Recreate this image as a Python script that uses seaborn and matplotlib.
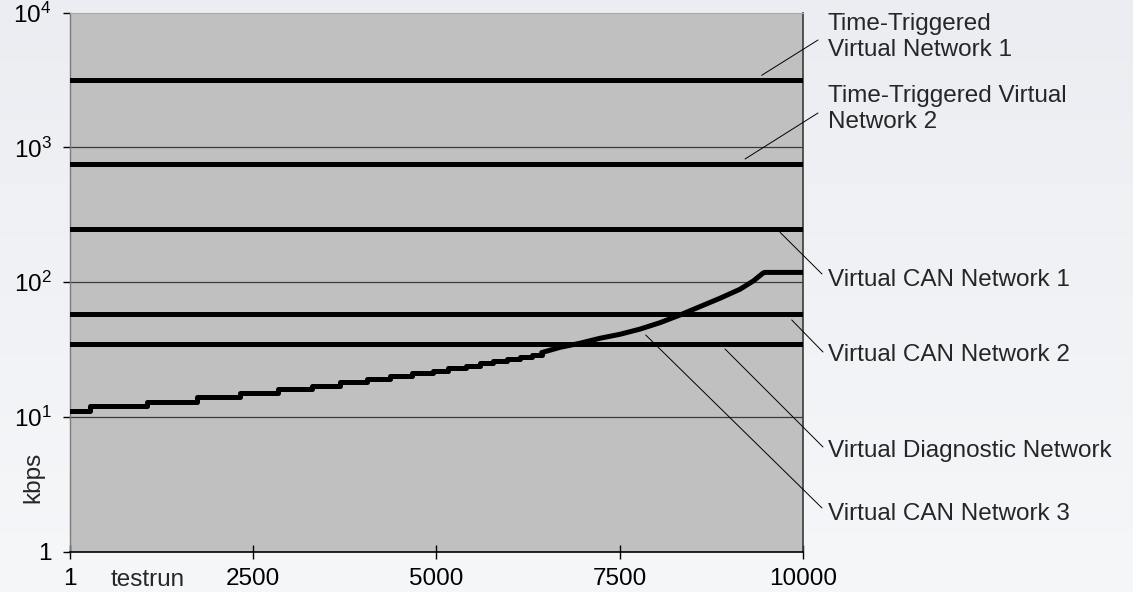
import numpy as np
import pandas as pd
import matplotlib
matplotlib.use("Agg")
import matplotlib.pyplot as plt
import seaborn as sns
from matplotlib.colors import LinearSegmentedColormap

# ---------------- data ----------------
network_names = ["Time-Triggered\nVirtual Network 1",
                 "Time-Triggered Virtual\nNetwork 2",
                 "Virtual CAN Network 1",
                 "Virtual CAN Network 2",
                 "Virtual Diagnostic Network"]
network_kbps = [3150, 755, 247, 58, 35]
testrun_range = [1, 10000]

curve_name = "Virtual CAN Network 3"
step_testrun = [1, 277, 1050, 1731, 2322, 2840, 3299, 3685, 4049, 4366, 4662,
                4948, 5157, 5402, 5592, 5774, 5957, 6138, 6298, 6434]
step_kbps = [11, 12, 13, 14, 15, 16, 17, 18, 19, 20, 21,
             22, 23, 24, 25, 26, 27, 28, 29, 30]
curve_testrun = [6434, 6683, 6956, 7228, 7501, 7774, 8047, 8319, 8592, 8865,
                 9137, 9319, 9455, 9478, 10000]
curve_kbps = [30, 32.8, 35.2, 38.3, 41, 44.8, 50, 57, 65.8, 75.9,
              88.5, 102, 117, 118, 118]

x_ticks = [1, 2500, 5000, 7500, 10000]
x_ticklabels = ["1", "2500", "5000", "7500", "10000"]
y_ticks = [1, 10, 100, 1000, 10000]
y_ticklabels = ["1", r"$\mathregular{10^1}$", r"$\mathregular{10^2}$",
                r"$\mathregular{10^3}$", r"$\mathregular{10^4}$"]
x_label = "testrun"
y_label = "kbps"

# label layout (leader start in data units, leader end / text in figure pixels from top)
label_texts = network_names + [curve_name]
leader_x = [9433, 9206, 9683, 9842, 8933, 7852]
leader_y = [3420, 819, 234, 52.4, 31.9, 40.5]
leader_end_px = [(818, 40), (818, 113), (822, 274), (823, 352), (823, 447), (822, 508)]
text_center_py = [37, 109, 280, 355, 451, 514]

# ---------------- style ----------------
sns.set_style("ticks")
plt.rcParams["font.family"] = ["Liberation Sans", "DejaVu Sans"]
plt.rcParams["mathtext.fontset"] = "custom"
plt.rcParams["mathtext.rm"] = "Liberation Sans"
plt.rcParams["mathtext.it"] = "Liberation Sans:italic"
plt.rcParams["mathtext.bf"] = "Liberation Sans:bold"

FS = 17.5
W, H = 1133, 592
fig = plt.figure(figsize=(W / 100, H / 100), dpi=100)

# background gradient
bg = fig.add_axes([0, 0, 1, 1], zorder=-10)
cmap = LinearSegmentedColormap.from_list("bg", ["#ECEDF2", "#F6F7F9"])
grad = np.linspace(0, 1, 256).reshape(-1, 1)
bg.imshow(grad, aspect="auto", cmap=cmap, extent=[0, 1, 0, 1], origin="upper")
bg.set_axis_off()

left, right = 69.7 / W, 803.3 / W
bottom, top = (H - 551.7) / H, (H - 12.5) / H
ax = fig.add_axes([left, bottom, right - left, top - bottom])
ax.set_facecolor("#C0C0C0")
ax.set_yscale("log")
ax.set_xlim(testrun_range[0], testrun_range[1])
ax.set_ylim(1, 10000)

# gridlines
for yv in y_ticks[1:-1]:
    ax.axhline(yv, color="#3A3A3A", lw=0.9, zorder=1)

# horizontal network lines
for name, val in zip(network_names, network_kbps):
    df = pd.DataFrame({"testrun": testrun_range, "kbps": [val, val]})
    sns.lineplot(data=df, x="testrun", y="kbps", ax=ax, color="black",
                 lw=3.6, estimator=None, sort=False, zorder=3)

# measured curve (stepped lower part, smooth upper part)
df_step = pd.DataFrame({"testrun": step_testrun, "kbps": step_kbps})
sns.lineplot(data=df_step, x="testrun", y="kbps", ax=ax, color="black", lw=3.6,
             estimator=None, sort=False, drawstyle="steps-post", zorder=4)
df_curve = pd.DataFrame({"testrun": curve_testrun, "kbps": curve_kbps})
sns.lineplot(data=df_curve, x="testrun", y="kbps", ax=ax, color="black", lw=3.6,
             estimator=None, sort=False, zorder=4, solid_joinstyle="round")

# axes styling
ax.set_xticks(x_ticks)
ax.set_xticklabels(x_ticklabels)
ax.set_yticks(y_ticks)
ax.set_yticklabels(y_ticklabels)
ax.yaxis.set_minor_locator(matplotlib.ticker.NullLocator())
ax.tick_params(axis="x", direction="inout", length=9.6, width=1, pad=7,
               labelsize=FS, colors="black")
ax.tick_params(axis="y", direction="out", length=5, width=1, pad=8,
               labelsize=FS, colors="black")
ax.set_xlabel("")
ax.set_ylabel("")
ax.spines["left"].set_color("#7A7A7A")
ax.spines["left"].set_linewidth(1.0)
ax.spines["bottom"].set_color("black")
ax.spines["bottom"].set_linewidth(1.2)
ax.spines["right"].set_color("#3A3A3A")
ax.spines["right"].set_linewidth(1.2)
ax.spines["top"].set_color("#A8A8A8")
ax.spines["top"].set_linewidth(0.8)
for s in ax.spines.values():
    s.set_visible(True)

fig.text(33 / W, 1 - 477 / H, y_label, rotation=90, ha="center", va="center",
         fontsize=FS)
fig.text(147.5 / W, 1 - 580 / H, x_label, ha="center", va="center", fontsize=FS)

# leader lines and labels
for txt, lx, ly, (ex, ey), cy in zip(label_texts, leader_x, leader_y,
                                     leader_end_px, text_center_py):
    ax.annotate("", xy=(lx, ly), xycoords="data",
                xytext=(ex, H - ey), textcoords="figure pixels",
                arrowprops=dict(arrowstyle="-", color="black", lw=0.7,
                                shrinkA=0, shrinkB=0),
                annotation_clip=False)
    fig.text(827.7 / W, 1 - cy / H, txt, ha="left", va="center",
             fontsize=FS, linespacing=1.2)

fig.savefig("out.png", dpi=100)
